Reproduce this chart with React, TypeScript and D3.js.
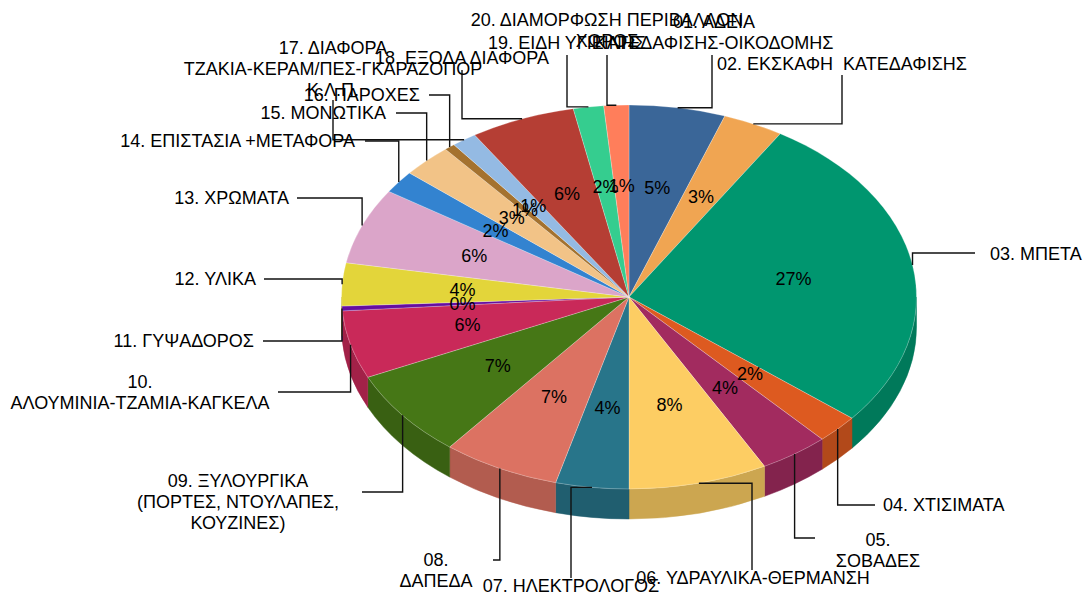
import React from "react";
import * as d3 from "d3";

// ---- data ----
const categories: string[] = [
  "01. ΑΔΕΙΑ ΚΑΤΕΔΑΦΙΣΗΣ-ΟΙΚΟΔΟΜΗΣ",
  "02. ΕΚΣΚΑΦΗ  ΚΑΤΕΔΑΦΙΣΗΣ",
  "03. ΜΠΕΤΑ",
  "04. ΧΤΙΣΙΜΑΤΑ",
  "05. ΣΟΒΑΔΕΣ",
  "06. ΥΔΡΑΥΛΙΚΑ-ΘΕΡΜΑΝΣΗ",
  "07. ΗΛΕΚΤΡΟΛΟΓΟΣ",
  "08. ΔΑΠΕΔΑ",
  "09. ΞΥΛΟΥΡΓΙΚΑ (ΠΟΡΤΕΣ, ΝΤΟΥΛΑΠΕΣ, ΚΟΥΖΙΝΕΣ)",
  "10. ΑΛΟΥΜΙΝΙΑ-ΤΖΑΜΙΑ-ΚΑΓΚΕΛΑ",
  "11. ΓΥΨΑΔΟΡΟΣ",
  "12. ΥΛΙΚΑ",
  "13. ΧΡΩΜΑΤΑ",
  "14. ΕΠΙΣΤΑΣΙΑ +ΜΕΤΑΦΟΡΑ",
  "15. ΜΟΝΩΤΙΚΑ",
  "16. ΠΑΡΟΧΕΣ",
  "17. ΔΙΑΦΟΡΑ ΤΖΑΚΙΑ-ΚΕΡΑΜ/ΠΕΣ-ΓΚΑΡΑΖΟΠΟΡ Κ.Λ.Π.",
  "18. ΕΞΟΔΑ ΔΙΑΦΟΡΑ",
  "19. ΕΙΔΗ ΥΓΙΕΙΝΗΣ",
  "20. ΔΙΑΜΟΡΦΩΣΗ ΠΕΡΙΒΑΛΛΟΝ ΧΩΡΟΣ",
];

const values: number[] = [
  5.4, 3.4, 27.0, 2.4, 3.9, 7.8, 4.1, 6.6, 7.4, 5.7,
  0.4, 3.6, 6.4, 1.9, 2.8, 0.6, 1.4, 5.9, 1.7, 1.4,
];

const labelLines: string[][] = [
  ["01. ΑΔΕΙΑ", "ΚΑΤΕΔΑΦΙΣΗΣ-ΟΙΚΟΔΟΜΗΣ"],
  ["02. ΕΚΣΚΑΦΗ  ΚΑΤΕΔΑΦΙΣΗΣ"],
  ["03. ΜΠΕΤΑ"],
  ["04. ΧΤΙΣΙΜΑΤΑ"],
  ["05.", "ΣΟΒΑΔΕΣ"],
  ["06. ΥΔΡΑΥΛΙΚΑ-ΘΕΡΜΑΝΣΗ"],
  ["07. ΗΛΕΚΤΡΟΛΟΓΟΣ"],
  ["08.", "ΔΑΠΕΔΑ"],
  ["09. ΞΥΛΟΥΡΓΙΚΑ", "(ΠΟΡΤΕΣ, ΝΤΟΥΛΑΠΕΣ,", "ΚΟΥΖΙΝΕΣ)"],
  ["10.", "ΑΛΟΥΜΙΝΙΑ-ΤΖΑΜΙΑ-ΚΑΓΚΕΛΑ"],
  ["11. ΓΥΨΑΔΟΡΟΣ"],
  ["12. ΥΛΙΚΑ"],
  ["13. ΧΡΩΜΑΤΑ"],
  ["14. ΕΠΙΣΤΑΣΙΑ +ΜΕΤΑΦΟΡΑ"],
  ["15. ΜΟΝΩΤΙΚΑ"],
  ["16. ΠΑΡΟΧΕΣ"],
  ["17. ΔΙΑΦΟΡΑ", "ΤΖΑΚΙΑ-ΚΕΡΑΜ/ΠΕΣ-ΓΚΑΡΑΖΟΠΟΡ", "Κ.Λ.Π."],
  ["18. ΕΞΟΔΑ ΔΙΑΦΟΡΑ"],
  ["19. ΕΙΔΗ ΥΓΙΕΙΝΗΣ"],
  ["20. ΔΙΑΜΟΡΦΩΣΗ ΠΕΡΙΒΑΛΛΟΝ", "ΧΩΡΟΣ"],
];

const colors: string[] = [
  "#3A6698", "#F0A552", "#00966F", "#DD5A20", "#A22B5F",
  "#FDCD63", "#28758A", "#DC7262", "#467716", "#C92959",
  "#650EA0", "#E3D53A", "#DBA5C9", "#3383D0", "#F2C387",
  "#A4722F", "#94BAE3", "#B53E34", "#35CD8F", "#FF7E5B",
];

// ---- layout (label placement) ----
type LabelLayout = { x: number; y: number; anchor: "start" | "middle" | "end"; lx: number; ly: number; elbow: "H" | "V" };
const labelLayout: LabelLayout[] = [
  { x: 714, y: 22, anchor: "middle", lx: 712, ly: 55, elbow: "V" },
  { x: 842, y: 64, anchor: "middle", lx: 842, ly: 75, elbow: "V" },
  { x: 990, y: 254, anchor: "start", lx: 975, ly: 253, elbow: "H" },
  { x: 883, y: 505, anchor: "start", lx: 875, ly: 505, elbow: "H" },
  { x: 878, y: 540, anchor: "middle", lx: 815, ly: 538, elbow: "H" },
  { x: 753, y: 578, anchor: "middle", lx: 752, ly: 570, elbow: "V" },
  { x: 571, y: 586, anchor: "middle", lx: 571, ly: 578, elbow: "V" },
  { x: 436, y: 560, anchor: "middle", lx: 493, ly: 560, elbow: "H" },
  { x: 238, y: 481, anchor: "middle", lx: 362, ly: 492, elbow: "H" },
  { x: 140, y: 382, anchor: "middle", lx: 278, ly: 392, elbow: "H" },
  { x: 254, y: 341, anchor: "end", lx: 263, ly: 341, elbow: "H" },
  { x: 256, y: 279, anchor: "end", lx: 264, ly: 279, elbow: "H" },
  { x: 289, y: 198, anchor: "end", lx: 297, ly: 198, elbow: "H" },
  { x: 355, y: 141, anchor: "end", lx: 365, ly: 141, elbow: "H" },
  { x: 386, y: 113, anchor: "end", lx: 396, ly: 113, elbow: "H" },
  { x: 420, y: 95, anchor: "end", lx: 429, ly: 95, elbow: "H" },
  { x: 333, y: 48, anchor: "middle", lx: 333, ly: 100, elbow: "V" },
  { x: 462, y: 58, anchor: "middle", lx: 462, ly: 70, elbow: "V" },
  { x: 567, y: 43, anchor: "middle", lx: 567, ly: 55, elbow: "V" },
  { x: 607, y: 20, anchor: "middle", lx: 607, ly: 55, elbow: "V" },
];

const W = 1089;
const H = 596;
const cx = 629;
const cy = 297;
const rx = 287.5;
const ry = 192;
const depth = 30;
const FONT = "'Liberation Sans', Arial, sans-serif";
const FS = 18;
const LH = 21;

function pt(a: number, dy = 0): [number, number] {
  return [cx + rx * Math.sin(a), cy - ry * Math.cos(a) + dy];
}

export default function App() {
  const total = d3.sum(values);
  const arcs = d3.pie<number>().sort(null).value((d) => d).startAngle(0).endAngle(2 * Math.PI)(values);

  const tops = arcs.map((a, i) => {
    const p0 = pt(a.startAngle);
    const p1 = pt(a.endAngle);
    const large = a.endAngle - a.startAngle > Math.PI ? 1 : 0;
    const d = `M${cx},${cy}L${p0[0]},${p0[1]}A${rx},${ry} 0 ${large} 1 ${p1[0]},${p1[1]}Z`;
    return { d, i };
  });

  const sides: { d: string; i: number }[] = [];
  arcs.forEach((a, i) => {
    const s = Math.max(a.startAngle, Math.PI / 2);
    const e = Math.min(a.endAngle, (3 * Math.PI) / 2);
    if (e <= s) return;
    const p0 = pt(s);
    const p1 = pt(e);
    const q1 = pt(e, depth);
    const q0 = pt(s, depth);
    const d = `M${p0[0]},${p0[1]}A${rx},${ry} 0 0 1 ${p1[0]},${p1[1]}L${q1[0]},${q1[1]}A${rx},${ry} 0 0 0 ${q0[0]},${q0[1]}Z`;
    sides.push({ d, i });
  });

  const pctFmt = (v: number) => `${Math.round((v / total) * 100)}%`;

  return (
    <svg width={W} height={H} style={{ position: "absolute", left: 0, top: 0, background: "#fff" }} fontFamily={FONT}>
      <g>
        {sides.map((s) => (
          <path key={"s" + s.i} d={s.d} fill={d3.color(colors[s.i])!.darker(0.6).formatHex()} stroke={d3.color(colors[s.i])!.darker(0.6).formatHex()} strokeWidth={0.5} />
        ))}
      </g>
      <g>
        {tops.map((t) => (
          <path key={"t" + t.i} d={t.d} fill={colors[t.i]} stroke="rgba(255,255,255,0.35)" strokeWidth={0.7} strokeLinejoin="round" />
        ))}
      </g>
      <g fontSize={FS} fill="#000">
        {arcs.map((a, i) => {
          const mid = (a.startAngle + a.endAngle) / 2;
          const x = cx + 0.58 * rx * Math.sin(mid);
          const y = cy - 0.58 * ry * Math.cos(mid);
          return (
            <text key={"p" + i} x={x} y={y} dy="0.35em" textAnchor="middle">
              {pctFmt(a.value)}
            </text>
          );
        })}
      </g>
      <g fill="none" stroke="#111" strokeWidth={1.4}>
        {arcs.map((a, i) => {
          const mid = (a.startAngle + a.endAngle) / 2;
          const [ex, ey] = pt(mid);
          const L = labelLayout[i];
          const elbow = L.elbow === "H" ? [ex, L.ly] : [L.lx, ey];
          return <polyline key={"l" + i} points={`${L.lx},${L.ly} ${elbow[0]},${elbow[1]} ${ex},${ey}`} />;
        })}
      </g>
      <g fontSize={FS} fill="#000">
        {labelLines.map((lines, i) => {
          const L = labelLayout[i];
          return (
            <text key={"c" + i} textAnchor={L.anchor} style={{ whiteSpace: "pre" }}>
              {lines.map((ln, j) => (
                <tspan key={j} x={L.x} y={L.y + j * LH} dy="0.35em">
                  {ln}
                </tspan>
              ))}
            </text>
          );
        })}
      </g>
    </svg>
  );
}
